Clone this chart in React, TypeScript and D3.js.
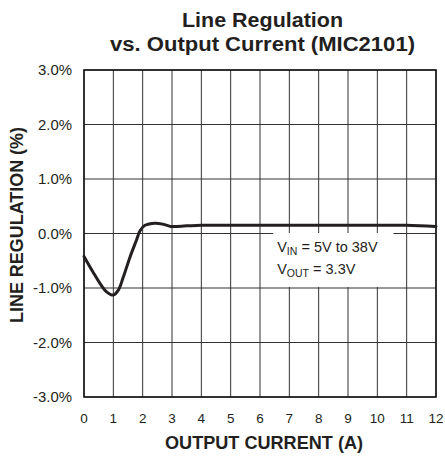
import React from "react";
import * as d3 from "d3";

const xTicks = [0, 1, 2, 3, 4, 5, 6, 7, 8, 9, 10, 11, 12];
const yTicks = [3, 2, 1, 0, -1, -2, -3];
const yTickLabels = ["3.0%", "2.0%", "1.0%", "0.0%", "-1.0%", "-2.0%", "-3.0%"];
const currentA = [0, 0.3, 0.55, 0.77, 1.0, 1.17, 1.34, 1.57, 1.79, 1.91, 2.08, 2.42, 2.7, 2.95, 3.5, 4, 6, 8, 10, 11, 12];
const regulationPct = [-0.42, -0.7, -0.92, -1.07, -1.13, -1.04, -0.8, -0.43, -0.12, 0.05, 0.15, 0.19, 0.17, 0.13, 0.14, 0.15, 0.15, 0.15, 0.15, 0.15, 0.13];

const W = 445;
const H = 457;
const m = { left: 84, right: 436, top: 70, bottom: 397 };
const font = "'Liberation Sans', Arial, Helvetica, sans-serif";

export default function App() {
  const x = d3.scaleLinear().domain([0, 12]).range([m.left, m.right]);
  const y = d3.scaleLinear().domain([-3, 3]).range([m.bottom, m.top]);
  const pts: [number, number][] = currentA.map((c, i) => [c, regulationPct[i]]);
  const line = d3
    .line<[number, number]>()
    .x((d) => x(d[0]))
    .y((d) => y(d[1]))
    .curve(d3.curveCatmullRom.alpha(0.5));
  const boxX0 = x(6.45);
  const boxX1 = x(10.55);
  return (
    <svg width={W} height={H} style={{ position: "absolute", left: 0, top: 0, background: "#fff" }} fontFamily={font}>
      <rect x={0} y={0} width={W} height={H} fill="#fff" />
      <text x={262.5} y={27} textAnchor="middle" fontWeight="bold" fontSize={19.5} fill="#231f20" textLength={161} lengthAdjust="spacingAndGlyphs">Line Regulation</text>
      <text x={262.5} y={51} textAnchor="middle" fontWeight="bold" fontSize={19.5} fill="#231f20" textLength={305} lengthAdjust="spacingAndGlyphs">vs. Output Current (MIC2101)</text>
      {xTicks.map((t) => (
        <line key={"vx" + t} x1={x(t)} x2={x(t)} y1={m.top} y2={m.bottom} stroke="#333" strokeWidth={1} />
      ))}
      {yTicks.map((t) => (
        <line key={"hy" + t} x1={m.left} x2={m.right} y1={y(t)} y2={y(t)} stroke="#333" strokeWidth={1} />
      ))}
      <rect x={boxX0} y={y(0) - 0.5} width={boxX1 - boxX0} height={y(-1) - y(0) - 0.5} fill="#fff" />
      <rect x={m.left} y={m.top} width={m.right - m.left} height={m.bottom - m.top} fill="none" stroke="#111" strokeWidth={1.5} />
      <path d={line(pts) || ""} fill="none" stroke="#231f20" strokeWidth={3} strokeLinejoin="round" strokeLinecap="round" />
      <text x={boxX0 + 4} y={252} fontSize={14.5} fill="#231f20">
        V<tspan fontSize={10.5} dy={3}>IN</tspan><tspan dy={-3}> = 5V to 38V</tspan>
      </text>
      <text x={boxX0 + 4} y={274} fontSize={14.5} fill="#231f20">
        V<tspan fontSize={10.5} dy={3}>OUT</tspan><tspan dy={-3}> = 3.3V</tspan>
      </text>
      {yTicks.map((t, i) => (
        <text key={"yl" + t} x={72} y={y(t) + 5} textAnchor="end" fontSize={14} fill="#231f20" textLength={yTickLabels[i].length > 4 ? 39 : 34} lengthAdjust="spacingAndGlyphs">{yTickLabels[i]}</text>
      ))}
      {xTicks.map((t) => (
        <text key={"xl" + t} x={x(t)} y={423} textAnchor="middle" fontSize={13.5} fill="#231f20">{t}</text>
      ))}
      <text x={264} y={449} textAnchor="middle" fontWeight="bold" fontSize={18.5} fill="#231f20" textLength={198} lengthAdjust="spacingAndGlyphs">OUTPUT CURRENT (A)</text>
      <text transform={`translate(22.5, 225) rotate(-90)`} textAnchor="middle" fontWeight="bold" fontSize={18} fill="#231f20" textLength={196} lengthAdjust="spacingAndGlyphs">LINE REGULATION (%)</text>
    </svg>
  );
}
